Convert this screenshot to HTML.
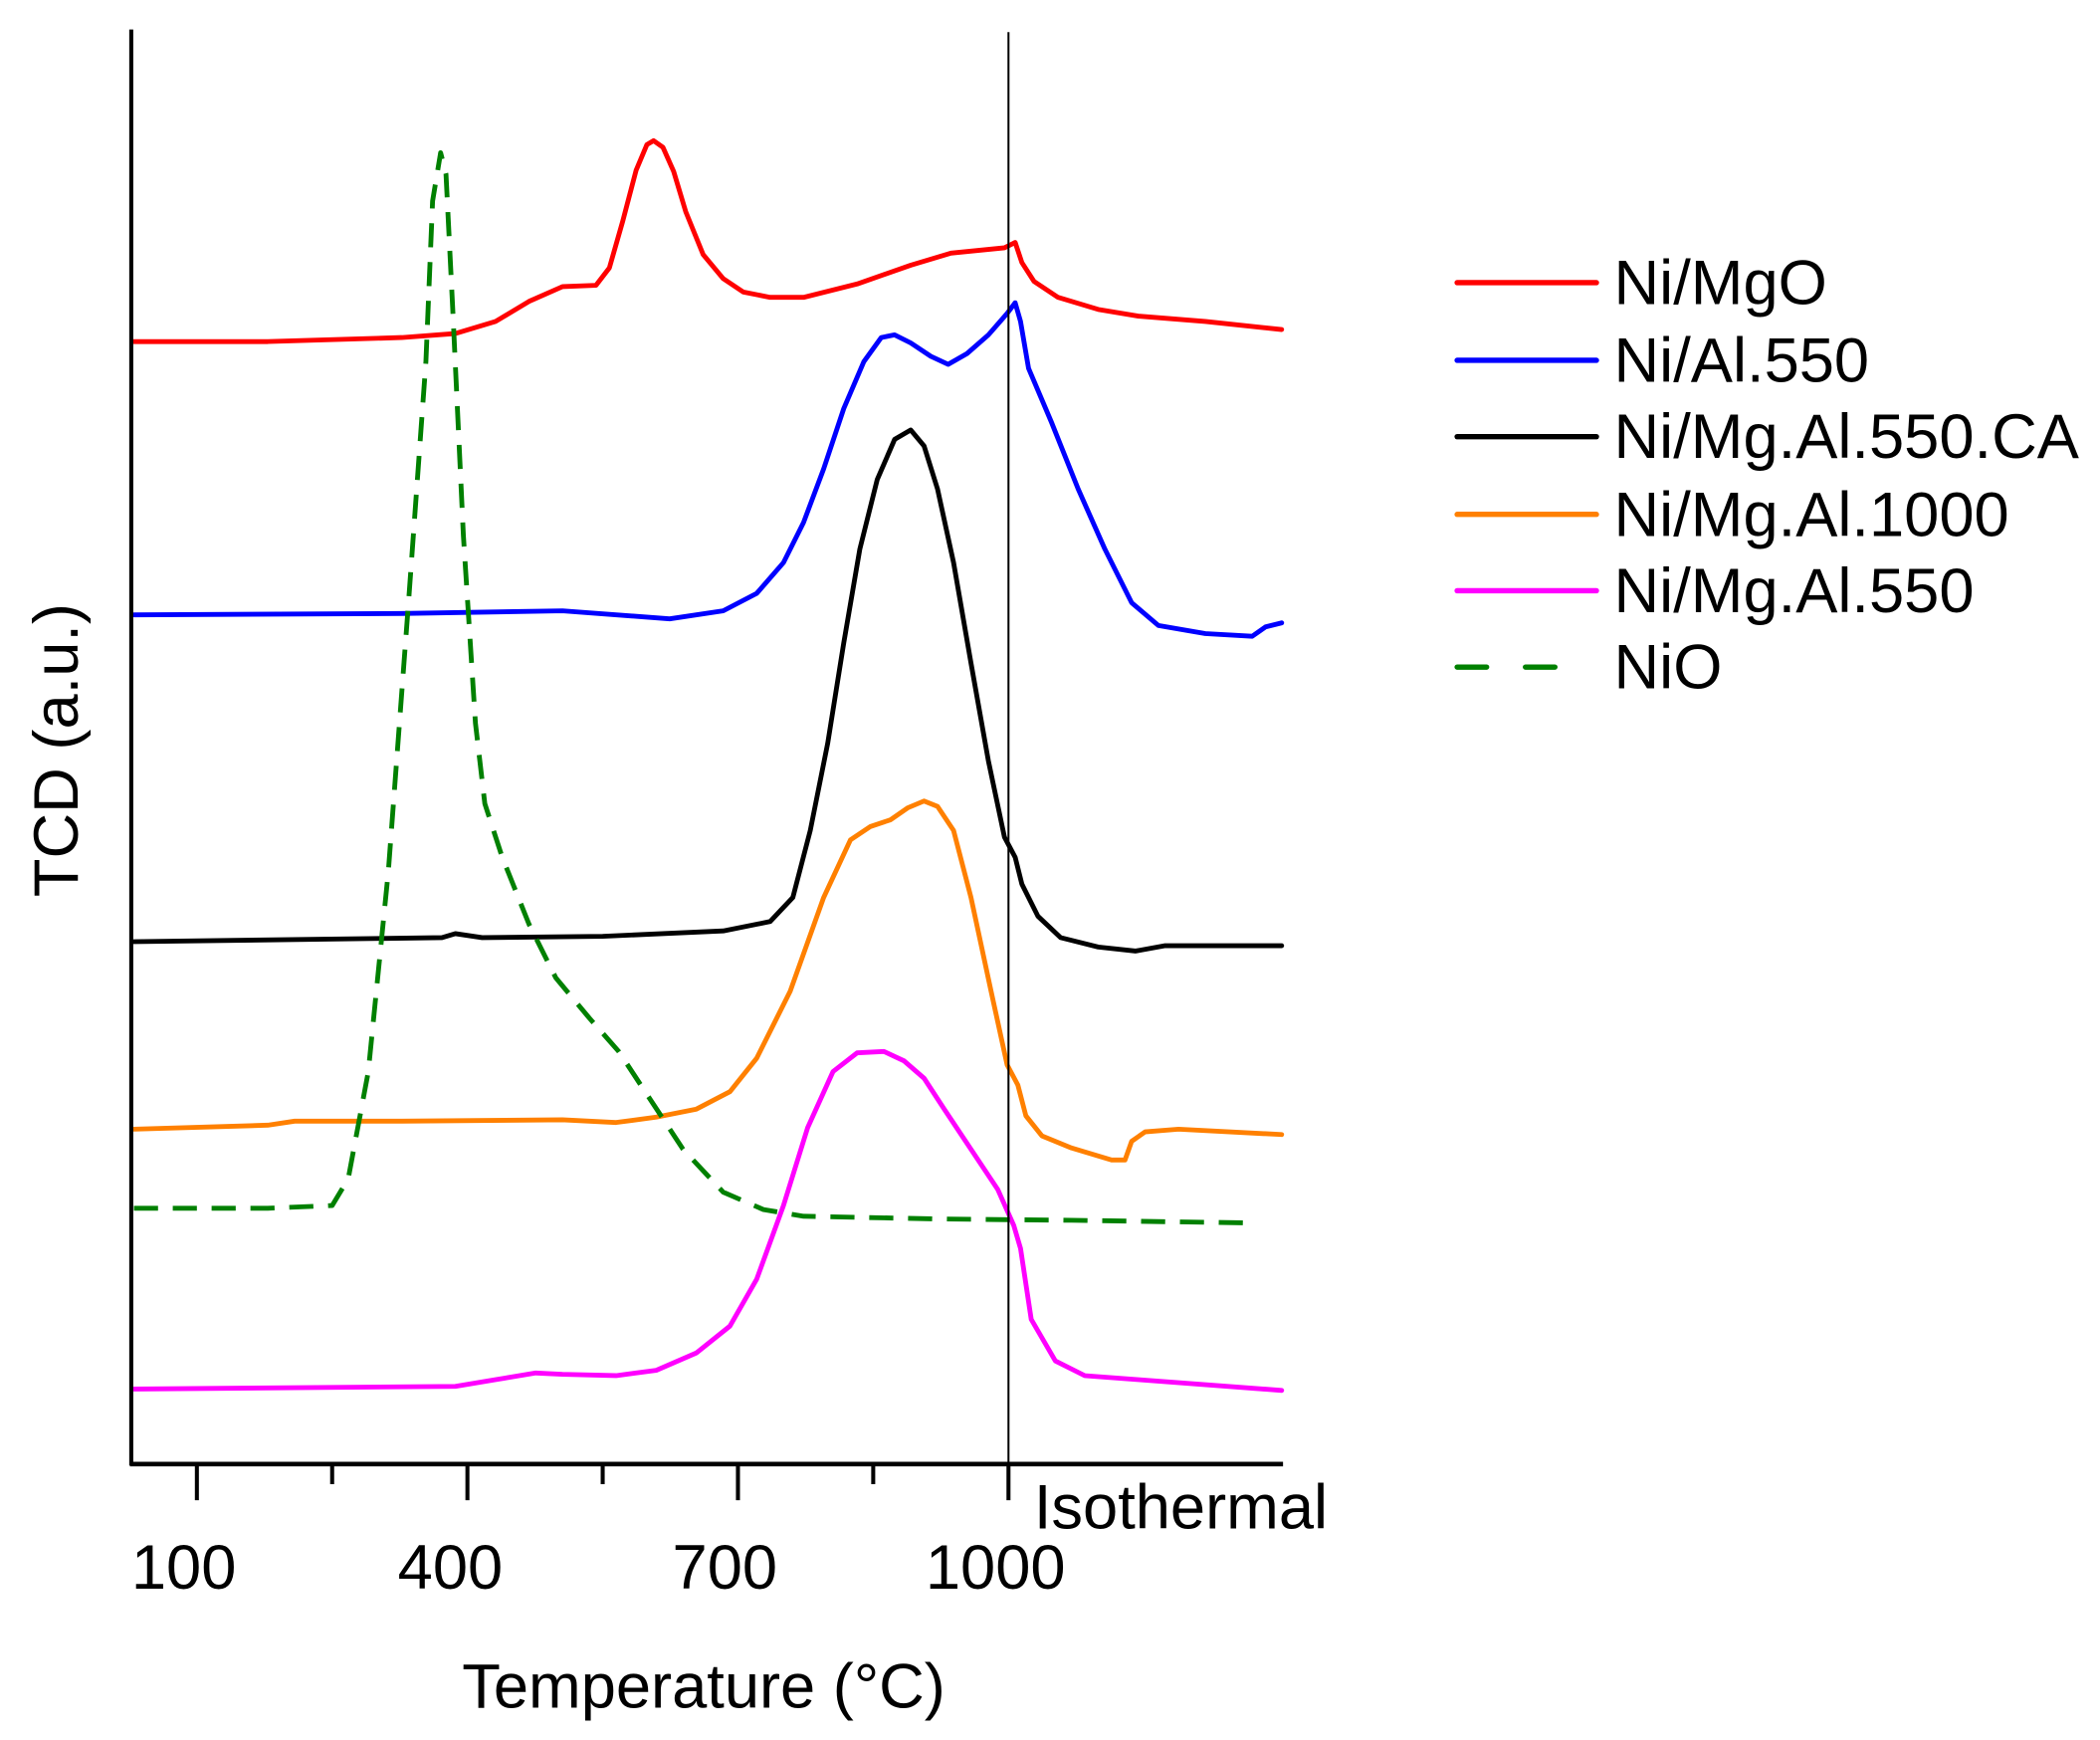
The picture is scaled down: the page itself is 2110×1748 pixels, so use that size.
<!DOCTYPE html>
<html><head><meta charset="utf-8"><style>
html,body{margin:0;padding:0;background:#fff;}
svg{display:block;}
text{font-family:"Liberation Sans",Arial,sans-serif;fill:#000;}
</style></head><body>
<svg width="2110" height="1748" viewBox="0 0 1568 1299" xmlns="http://www.w3.org/2000/svg">
<rect width="1568" height="1299" fill="#fff"/>
<g fill="none" stroke-linejoin="round" stroke-linecap="round" stroke-width="3.6">
<polyline stroke="#ff0000" points="100,255 200,255 300,252 340,249 370,240 395,225 420,214 445,213 455,200 465,165 475,127 483,108 488,105 495,110 503,128 512,158 525,190 540,208 555,218 575,222 600,222 640,212 680,198 710,189 750,185 758,181 763,196 772,210 790,222 820,231 850,236 900,240 957,246"/>
<polyline stroke="#0000ff" points="100,459 300,458 420,456 500,462 540,456 565,443 585,420 600,390 615,350 630,305 645,270 658,252 668,250 680,256 695,266 708,272 722,264 738,250 752,234 758,226 762,240 768,275 785,315 805,365 825,410 845,450 865,467 900,473 935,475 945,468 957,465"/>
<polyline stroke="#000000" points="100,703 330,700 340,697 360,700 450,699 540,695 575,688 592,670 605,620 618,555 630,480 642,410 655,358 668,328 680,321 690,333 700,365 712,420 725,495 738,568 750,625 758,640 763,660 775,684 792,700 820,707 848,710 870,706 957,706"/>
<polyline stroke="#ff8000" points="100,843 200,840 220,837 300,837 420,836 460,838 490,834 520,828 545,815 565,790 590,740 615,670 635,627 650,617 665,612 678,603 690,598 700,602 712,620 725,670 740,740 752,795 760,810 766,833 778,848 800,857 830,866 840,866 845,852 855,845 880,843 957,847"/>
<polyline stroke="#ff00ff" points="100,1037 340,1035 370,1030 400,1025 420,1026 460,1027 490,1023 520,1010 545,990 565,955 585,900 603,842 622,800 640,786 660,785 675,792 690,805 705,828 725,858 745,888 757,915 762,932 770,985 788,1016 810,1027 850,1030 957,1038"/>
<polyline stroke="#008000" stroke-dasharray="18,11" stroke-linecap="butt" points="100,902 200,902 248,900 260,880 275,800 290,650 305,450 318,270 323,150 329,114 333,130 338,230 346,400 355,540 362,600 375,640 395,690 415,730 440,760 462,785 485,820 510,858 540,890 570,903 600,908 700,910 800,911 935,913"/>
</g>
<!-- axes -->
<line x1="98" y1="22" x2="98" y2="1094" stroke="#000" stroke-width="3"/>
<line x1="97" y1="1093" x2="958" y2="1093" stroke="#000" stroke-width="3.5"/>
<line x1="753" y1="24" x2="753" y2="1093" stroke="#000" stroke-width="1.5"/>
<g stroke="#000" stroke-width="3">
<line x1="147" y1="1093" x2="147" y2="1120"/><line x1="349" y1="1093" x2="349" y2="1120"/><line x1="551" y1="1093" x2="551" y2="1120"/><line x1="753" y1="1093" x2="753" y2="1120"/>
<line x1="248" y1="1093" x2="248" y2="1108"/><line x1="450" y1="1093" x2="450" y2="1108"/><line x1="652" y1="1093" x2="652" y2="1108"/>
</g>
<g font-size="47">
<text x="98" y="1186">100</text>
<text x="297" y="1186">400</text>
<text x="502" y="1186">700</text>
<text x="691" y="1186">1000</text>
<text x="772" y="1141">Isothermal</text>
<text x="345" y="1275">Temperature (°C)</text>
<text transform="translate(58,560) rotate(-90)" text-anchor="middle">TCD (a.u.)</text>
</g>
<!-- legend -->
<g stroke-width="4" stroke-linecap="round">
<line x1="1088" y1="211" x2="1192" y2="211" stroke="#ff0000"/>
<line x1="1088" y1="269" x2="1192" y2="269" stroke="#0000ff"/>
<line x1="1088" y1="326" x2="1192" y2="326" stroke="#000"/>
<line x1="1088" y1="384" x2="1192" y2="384" stroke="#ff8000"/>
<line x1="1088" y1="441" x2="1192" y2="441" stroke="#ff00ff"/>
<line x1="1088" y1="498" x2="1180" y2="498" stroke="#008000" stroke-dasharray="22,29"/>
</g>
<g font-size="47">
<text x="1205" y="227">Ni/MgO</text>
<text x="1205" y="285">Ni/Al.550</text>
<text x="1205" y="342">Ni/Mg.Al.550.CA</text>
<text x="1205" y="400">Ni/Mg.Al.1000</text>
<text x="1205" y="457">Ni/Mg.Al.550</text>
<text x="1205" y="514">NiO</text>
</g>
</svg>
</body></html>
